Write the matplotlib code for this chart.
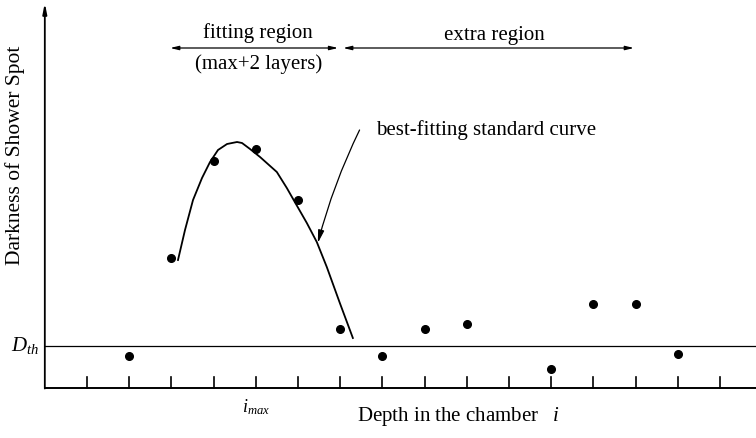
import matplotlib
matplotlib.use("Agg")
import matplotlib.pyplot as plt

plt.rcParams['font.family'] = ['Liberation Serif', 'DejaVu Serif']
plt.rcParams['mathtext.fontset'] = 'custom'
plt.rcParams['mathtext.rm'] = 'Liberation Serif'
plt.rcParams['mathtext.it'] = 'Liberation Serif:italic'

# Measured darkness per layer (arbitrary units)
layers = [2, 3, 4, 5, 6, 7, 8, 9, 10, 12, 13, 14, 15]
darkness = [3.2, 13.0, 22.7, 23.9, 18.8, 5.9, 3.2, 5.9, 6.4, 1.9, 8.4, 8.4, 3.4]

# Best-fitting standard curve over the fitting region
curve_x = [3.156, 3.322, 3.512, 3.725, 3.915, 4.104, 4.318, 4.555, 4.673, 4.863,
           5.100, 5.498, 5.735, 5.924, 6.209, 6.445, 6.682, 6.991, 7.300]
curve_y = [12.8, 15.8, 18.8, 21.0, 22.6, 23.8, 24.4, 24.6, 24.5, 23.9,
           23.1, 21.6, 20.0, 18.6, 16.5, 14.6, 12.1, 8.5, 5.0]

threshold = 4.23
tick_layers = list(range(1, 17))
i_max = 5

fig = plt.figure(figsize=(7.56, 4.38), dpi=100)
ax = fig.add_axes([0, 0, 1, 1])
ax.set_xlim(-1.062, 16.853)
ax.set_ylim(-5.0, 38.8)
ax.axis('off')

# Axes drawn by hand
ax.plot([0, 16.9], [0, 0], color='black', lw=1.4, solid_capstyle='butt')
ax.annotate('', xy=(0, 38.5), xytext=(0, -0.05),
            arrowprops=dict(arrowstyle='-|>,head_length=0.6,head_width=0.12',
                            color='black', lw=1.3, shrinkA=0, shrinkB=0))
for t in tick_layers:
    ax.plot([t, t], [0, 1.1], color='black', lw=1.2)

# Threshold line
ax.plot([0, 16.9], [threshold, threshold], color='black', lw=0.9)
ax.text(-0.48, threshold, r'$D_{th}$', ha='center', va='center', fontsize=15)

# Data and fitted curve
ax.plot(layers, darkness, 'o', color='black', markersize=5.5)
ax.plot(curve_x, curve_y, color='black', lw=1.3)

# Region arrows
arrow = dict(arrowstyle='<|-|>,head_length=0.5,head_width=0.12', color='black',
             lw=0.9, shrinkA=0, shrinkB=0)
ax.annotate('', xy=(2.97, 34.0), xytext=(6.95, 34.0), arrowprops=arrow)
ax.annotate('', xy=(7.07, 34.0), xytext=(13.96, 34.0), arrowprops=arrow)
ax.text(5.06, 35.5, 'fitting region', ha='center', va='center', fontsize=15)
ax.text(5.06, 32.4, '(max+2 layers)', ha='center', va='center', fontsize=15)
ax.text(10.65, 35.2, 'extra region', ha='center', va='center', fontsize=15)

# Curve label with pointer
ax.annotate('best-fitting standard curve', xy=(6.47, 14.5), xytext=(7.85, 25.8),
            ha='left', va='center', fontsize=15,
            arrowprops=dict(arrowstyle='-|>,head_length=0.5,head_width=0.12',
                            color='black', lw=0.9, shrinkA=0, shrinkB=0,
                            connectionstyle='arc3,rad=0.05',
                            relpos=(-0.075, 0.5)))

# Axis labels
ax.text(-0.70, 23.3, 'Darkness of Shower Spot', rotation=90, ha='center',
        va='center', fontsize=15.5)
ax.text(7.40, -2.9, r'Depth in the chamber   $i$', ha='left', va='center',
        fontsize=15)
ax.text(i_max, -1.9, r'$i_{max}$', ha='center', va='center', fontsize=13)

fig.savefig('out.png', dpi=100)
